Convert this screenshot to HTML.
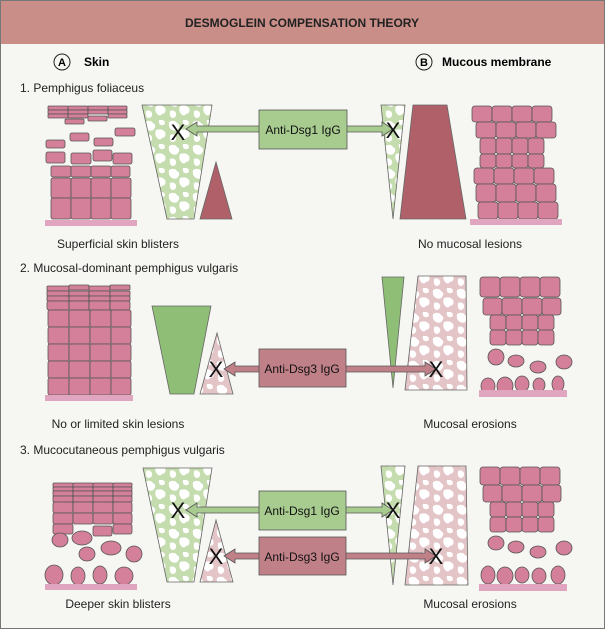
<!DOCTYPE html>
<html><head><meta charset="utf-8"><style>
body{margin:0;background:#fff}
svg{display:block;font-family:"Liberation Sans",Arial,sans-serif}
</style></head><body>
<svg width="605" height="629" viewBox="0 0 605 629" xmlns="http://www.w3.org/2000/svg">
<defs>
<pattern id="mg" width="24" height="24" patternUnits="userSpaceOnUse">
<rect width="24" height="24" fill="#c5dcae"/>
<path d="M1 2 q5 -3 8 1 q4 2 1 6 q-2 3 -6 1 q-4 -2 -3 -8z M12 10 q6 -2 9 2 q2 5 -3 6 q-2 3 -5 0 q-3 -4 -1 -8z M2 15 q4 -2 6 2 q1 4 -3 5 q-4 0 -3 -7z M15 0 q4 -1 6 2 q0 4 -4 3 q-3 -1 -2 -5z" fill="#fff"/>
</pattern>
<pattern id="mp" width="24" height="24" patternUnits="userSpaceOnUse">
<rect width="24" height="24" fill="#e3c5c8"/>
<path d="M1 2 q5 -3 8 1 q4 2 1 6 q-2 3 -6 1 q-4 -2 -3 -8z M12 10 q6 -2 9 2 q2 5 -3 6 q-2 3 -5 0 q-3 -4 -1 -8z M2 15 q4 -2 6 2 q1 4 -3 5 q-4 0 -3 -7z M15 0 q4 -1 6 2 q0 4 -4 3 q-3 -1 -2 -5z" fill="#fff"/>
</pattern>
</defs>
<rect x="0.5" y="0.5" width="604" height="628" fill="#f6f6f2" stroke="#777"/>
<rect x="1" y="1" width="603" height="43" fill="#c98e88"/>
<text x="302" y="27" text-anchor="middle" font-size="12" font-weight="bold" fill="#222">DESMOGLEIN COMPENSATION THEORY</text>
<circle cx="62" cy="62" r="8" fill="none" stroke="#222"/><text x="62" y="66" text-anchor="middle" font-size="11" font-weight="bold">A</text>
<text x="84" y="66" font-size="12" font-weight="bold">Skin</text>
<circle cx="424" cy="62" r="8" fill="none" stroke="#222"/><text x="424" y="66" text-anchor="middle" font-size="11" font-weight="bold">B</text>
<text x="442" y="66" font-size="12" font-weight="bold">Mucous membrane</text>

<g font-size="12" fill="#222">
<text x="20" y="92">1. Pemphigus foliaceus</text>
<text x="118" y="248" text-anchor="middle">Superficial skin blisters</text>
<text x="470" y="248" text-anchor="middle">No mucosal lesions</text>
<text x="20" y="272">2. Mucosal-dominant pemphigus vulgaris</text>
<text x="118" y="428" text-anchor="middle">No or limited skin lesions</text>
<text x="470" y="428" text-anchor="middle">Mucosal erosions</text>
<text x="20" y="454">3. Mucocutaneous pemphigus vulgaris</text>
<text x="118" y="608" text-anchor="middle">Deeper skin blisters</text>
<text x="470" y="608" text-anchor="middle">Mucosal erosions</text>
</g>

<g fill="#d4809b" stroke="#555" stroke-width="0.8">
<rect x="48" y="106" width="20" height="4" rx="1"/><rect x="68" y="106" width="20" height="4" rx="1"/><rect x="88" y="106" width="20" height="4" rx="1"/><rect x="108" y="106" width="19" height="4" rx="1"/>
<rect x="48" y="110" width="20" height="4" rx="1"/><rect x="68" y="110" width="20" height="4" rx="1"/><rect x="88" y="110" width="20" height="4" rx="1"/><rect x="108" y="110" width="19" height="4" rx="1"/>
<rect x="48" y="114" width="20" height="4" rx="1"/><rect x="68" y="114" width="20" height="4" rx="1"/><rect x="108" y="114" width="19" height="4" rx="1"/>
<rect x="65" y="119" width="19" height="5" rx="1"/><rect x="88" y="116" width="19" height="5" rx="1"/>
<rect x="115" y="128" width="20" height="8" rx="2"/><rect x="70" y="133" width="19" height="8" rx="2"/><rect x="46" y="140" width="19" height="8" rx="2"/><rect x="94" y="138" width="19" height="8" rx="2"/>
<rect x="46" y="152" width="19" height="11" rx="2"/><rect x="71" y="153" width="20" height="11" rx="2"/><rect x="93" y="150" width="19" height="11" rx="2"/><rect x="113" y="153" width="19" height="11" rx="2"/>
<rect x="51" y="166" width="20" height="11" rx="2"/><rect x="71" y="166" width="20" height="11" rx="2"/><rect x="91" y="166" width="20" height="11" rx="2"/><rect x="111" y="166" width="19" height="11" rx="2"/>
<rect x="51" y="178" width="20" height="20" rx="2"/><rect x="71" y="178" width="20" height="20" rx="2"/><rect x="91" y="178" width="20" height="20" rx="2"/><rect x="111" y="178" width="20" height="20" rx="2"/>
<rect x="51" y="198" width="20" height="21" rx="2"/><rect x="71" y="198" width="20" height="21" rx="2"/><rect x="91" y="198" width="20" height="21" rx="2"/><rect x="111" y="198" width="20" height="21" rx="2"/>
<rect x="472" y="106" width="20" height="16" rx="3"/><rect x="492" y="106" width="20" height="16" rx="3"/><rect x="512" y="106" width="20" height="16" rx="3"/><rect x="532" y="106" width="20" height="16" rx="3"/>
<rect x="476" y="122" width="20" height="16" rx="3"/><rect x="496" y="122" width="20" height="16" rx="3"/><rect x="516" y="122" width="20" height="16" rx="3"/><rect x="536" y="122" width="20" height="16" rx="3"/>
<rect x="480" y="138" width="16" height="16" rx="3"/><rect x="496" y="138" width="16" height="16" rx="3"/><rect x="512" y="138" width="16" height="16" rx="3"/><rect x="528" y="138" width="16" height="16" rx="3"/>
<rect x="480" y="154" width="16" height="14" rx="3"/><rect x="496" y="154" width="16" height="14" rx="3"/><rect x="512" y="154" width="16" height="14" rx="3"/><rect x="528" y="154" width="16" height="14" rx="3"/>
<rect x="474" y="168" width="20" height="16" rx="3"/><rect x="494" y="168" width="20" height="16" rx="3"/><rect x="514" y="168" width="20" height="16" rx="3"/><rect x="534" y="168" width="20" height="16" rx="3"/>
<rect x="476" y="184" width="20" height="18" rx="3"/><rect x="496" y="184" width="20" height="18" rx="3"/><rect x="516" y="184" width="20" height="18" rx="3"/><rect x="536" y="184" width="20" height="18" rx="3"/>
<rect x="478" y="202" width="20" height="17" rx="3"/><rect x="498" y="202" width="20" height="17" rx="3"/><rect x="518" y="202" width="20" height="17" rx="3"/><rect x="538" y="202" width="20" height="17" rx="3"/>

<rect x="47" y="286" width="22" height="5" rx="1"/><rect x="69" y="285" width="20" height="5" rx="1"/><rect x="89" y="286" width="21" height="5" rx="1"/><rect x="110" y="285" width="20" height="5" rx="1"/>
<rect x="47" y="291" width="22" height="5" rx="1"/><rect x="69" y="291" width="20" height="5" rx="1"/><rect x="89" y="291" width="21" height="5" rx="1"/><rect x="110" y="291" width="20" height="5" rx="1"/>
<rect x="47" y="296" width="22" height="5" rx="1"/><rect x="69" y="296" width="20" height="5" rx="1"/><rect x="89" y="296" width="21" height="5" rx="1"/><rect x="110" y="296" width="20" height="5" rx="1"/>
<rect x="47" y="301" width="22" height="9" rx="2"/><rect x="69" y="301" width="20" height="9" rx="2"/><rect x="89" y="301" width="21" height="9" rx="2"/><rect x="110" y="301" width="20" height="9" rx="2"/>
<rect x="48" y="310" width="21" height="17" rx="2"/><rect x="69" y="310" width="21" height="17" rx="2"/><rect x="90" y="310" width="21" height="17" rx="2"/><rect x="111" y="310" width="20" height="17" rx="2"/>
<rect x="48" y="327" width="21" height="17" rx="2"/><rect x="69" y="327" width="21" height="17" rx="2"/><rect x="90" y="327" width="21" height="17" rx="2"/><rect x="111" y="327" width="20" height="17" rx="2"/>
<rect x="48" y="344" width="21" height="17" rx="2"/><rect x="69" y="344" width="21" height="17" rx="2"/><rect x="90" y="344" width="21" height="17" rx="2"/><rect x="111" y="344" width="20" height="17" rx="2"/>
<rect x="48" y="361" width="21" height="17" rx="2"/><rect x="69" y="361" width="21" height="17" rx="2"/><rect x="90" y="361" width="21" height="17" rx="2"/><rect x="111" y="361" width="20" height="17" rx="2"/>
<rect x="48" y="378" width="21" height="17" rx="2"/><rect x="69" y="378" width="21" height="17" rx="2"/><rect x="90" y="378" width="21" height="17" rx="2"/><rect x="111" y="378" width="20" height="17" rx="2"/>
<rect x="480" y="277" width="20" height="20" rx="3"/><rect x="500" y="277" width="20" height="20" rx="3"/><rect x="520" y="277" width="20" height="20" rx="3"/><rect x="540" y="277" width="20" height="20" rx="3"/>
<rect x="483" y="298" width="19" height="17" rx="3"/><rect x="502" y="298" width="20" height="17" rx="3"/><rect x="522" y="298" width="20" height="17" rx="3"/><rect x="542" y="298" width="19" height="17" rx="3"/>
<rect x="490" y="315" width="16" height="15" rx="3"/><rect x="506" y="315" width="16" height="15" rx="3"/><rect x="522" y="315" width="16" height="15" rx="3"/><rect x="538" y="315" width="16" height="15" rx="3"/>
<rect x="490" y="330" width="16" height="15" rx="3"/><rect x="506" y="330" width="16" height="15" rx="3"/><rect x="522" y="330" width="16" height="15" rx="3"/><rect x="538" y="330" width="16" height="15" rx="3"/>
<ellipse cx="496" cy="357" rx="8" ry="8"/><ellipse cx="516" cy="361" rx="8" ry="6"/><ellipse cx="538" cy="367" rx="8" ry="6"/><ellipse cx="564" cy="362" rx="8" ry="7"/>
<ellipse cx="488" cy="386" rx="7" ry="8"/><ellipse cx="505" cy="386" rx="8" ry="9"/><ellipse cx="522" cy="384" rx="7" ry="8"/><ellipse cx="539" cy="385" rx="6" ry="7"/><ellipse cx="558" cy="384" rx="6" ry="8"/>

<rect x="53" y="483" width="20" height="4" rx="1"/><rect x="73" y="483" width="20" height="4" rx="1"/><rect x="93" y="483" width="20" height="4" rx="1"/><rect x="113" y="483" width="19" height="4" rx="1"/>
<rect x="53" y="487" width="20" height="4" rx="1"/><rect x="73" y="487" width="20" height="4" rx="1"/><rect x="93" y="487" width="20" height="4" rx="1"/><rect x="113" y="487" width="19" height="4" rx="1"/>
<rect x="53" y="491" width="20" height="5" rx="1"/><rect x="73" y="491" width="20" height="5" rx="1"/><rect x="93" y="491" width="20" height="5" rx="1"/><rect x="113" y="491" width="19" height="5" rx="1"/>
<rect x="53" y="496" width="20" height="6" rx="1"/><rect x="73" y="496" width="20" height="6" rx="1"/><rect x="93" y="496" width="20" height="6" rx="1"/><rect x="113" y="496" width="19" height="6" rx="1"/>
<rect x="53" y="502" width="20" height="11" rx="2"/><rect x="73" y="502" width="20" height="11" rx="2"/><rect x="93" y="502" width="20" height="11" rx="2"/><rect x="113" y="502" width="19" height="11" rx="2"/>
<rect x="53" y="513" width="20" height="11" rx="2"/><rect x="73" y="513" width="20" height="11" rx="2"/><rect x="93" y="513" width="20" height="11" rx="2"/><rect x="113" y="513" width="19" height="11" rx="2"/>
<rect x="53" y="524" width="20" height="10" rx="2"/><rect x="93" y="526" width="19" height="10" rx="2"/><rect x="113" y="524" width="19" height="10" rx="2"/>
<ellipse cx="60" cy="540" rx="8" ry="7"/><ellipse cx="82" cy="538" rx="10" ry="7"/><ellipse cx="87" cy="554" rx="8" ry="7"/><ellipse cx="111" cy="548" rx="10" ry="7"/><ellipse cx="134" cy="554" rx="8" ry="8"/>
<ellipse cx="54" cy="575" rx="9" ry="10"/><ellipse cx="78" cy="576" rx="7" ry="9"/><ellipse cx="100" cy="575" rx="7" ry="9"/><ellipse cx="124" cy="576" rx="9" ry="9"/>
<rect x="480" y="467" width="20" height="18" rx="3"/><rect x="500" y="467" width="20" height="18" rx="3"/><rect x="520" y="467" width="20" height="18" rx="3"/><rect x="540" y="467" width="20" height="18" rx="3"/>
<rect x="483" y="485" width="19" height="17" rx="3"/><rect x="502" y="485" width="20" height="17" rx="3"/><rect x="522" y="485" width="20" height="17" rx="3"/><rect x="542" y="485" width="19" height="17" rx="3"/>
<rect x="490" y="502" width="16" height="15" rx="3"/><rect x="506" y="502" width="16" height="15" rx="3"/><rect x="522" y="502" width="16" height="15" rx="3"/><rect x="538" y="502" width="16" height="15" rx="3"/>
<rect x="490" y="517" width="16" height="15" rx="3"/><rect x="506" y="517" width="16" height="15" rx="3"/><rect x="522" y="517" width="16" height="15" rx="3"/><rect x="538" y="517" width="16" height="15" rx="3"/>
<ellipse cx="496" cy="543" rx="8" ry="7"/><ellipse cx="516" cy="547" rx="8" ry="6"/><ellipse cx="538" cy="552" rx="8" ry="6"/><ellipse cx="564" cy="548" rx="8" ry="7"/>
<ellipse cx="488" cy="575" rx="7" ry="9"/><ellipse cx="505" cy="576" rx="8" ry="9"/><ellipse cx="522" cy="575" rx="7" ry="8"/><ellipse cx="539" cy="576" rx="7" ry="8"/><ellipse cx="558" cy="575" rx="7" ry="9"/>
</g>
<g fill="#e0a6bf">
<rect x="45" y="220" width="92" height="6"/><rect x="470" y="219" width="92" height="6"/>
<rect x="45" y="395" width="88" height="6"/><rect x="479" y="390" width="88" height="7"/>
<rect x="45" y="584" width="92" height="6"/><rect x="479" y="584" width="88" height="7"/>
</g>

<g stroke="#666" stroke-width="0.8">
<polygon points="142,105 212,105 194,219 167,219" fill="url(#mg)"/>
<polygon points="216,162 232,219 200,219" fill="#b06068"/>
<polygon points="381,105 405,105 393,219" fill="url(#mg)"/>
<polygon points="413,105 447,105 466,219 400,219" fill="#b06068"/>
<polygon points="152,306 211,306 194,394 170,394" fill="#8fbe77"/>
<polygon points="217,333 233,394 200,394" fill="url(#mp)"/>
<polygon points="382,277 404,277 393,388" fill="#8fbe77"/>
<polygon points="418,276 466,276 467,390 405,390" fill="url(#mp)"/>
<polygon points="143,468 212,468 194,582 167,582" fill="url(#mg)"/>
<polygon points="216,520 233,582 200,582" fill="url(#mp)"/>
<polygon points="381,466 405,466 393,585" fill="url(#mg)"/>
<polygon points="418,466 466,466 468,585 405,585" fill="url(#mp)"/>
</g>

<g stroke="#555" stroke-width="0.8">
<polygon points="186,129 197,122 197,126 382,126 382,122 393,129 382,136 382,132 197,132 197,136" fill="#a8cc90"/>
<polygon points="224,369 235,362 235,366 425,366 425,362 436,369 425,376 425,372 235,372 235,376" fill="#c08088"/>
<polygon points="186,510 197,503 197,507 382,507 382,503 393,510 382,517 382,513 197,513 197,517" fill="#a8cc90"/>
<polygon points="224,556 235,549 235,553 425,553 425,549 436,556 425,563 425,559 235,559 235,563" fill="#c08088"/>
<rect x="259" y="110" width="88" height="39" fill="#a8cc90"/>
<rect x="259" y="349" width="87" height="38" fill="#c08088"/>
<rect x="259" y="491" width="87" height="39" fill="#a8cc90"/>
<rect x="259" y="537" width="87" height="38" fill="#c08088"/>
</g>
<g font-size="12" fill="#111" text-anchor="middle">
<text x="303" y="134">Anti-Dsg1 IgG</text>
<text x="302" y="373">Anti-Dsg3 IgG</text>
<text x="302" y="515">Anti-Dsg1 IgG</text>
<text x="302" y="561">Anti-Dsg3 IgG</text>
</g>
<g font-size="22" fill="#111" text-anchor="middle">
<text x="178" y="140">X</text><text x="393" y="138">X</text>
<text x="216" y="377">X</text><text x="436" y="377">X</text>
<text x="178" y="518">X</text><text x="393" y="518">X</text>
<text x="216" y="564">X</text><text x="436" y="564">X</text>
</g>
</svg>
</body></html>
